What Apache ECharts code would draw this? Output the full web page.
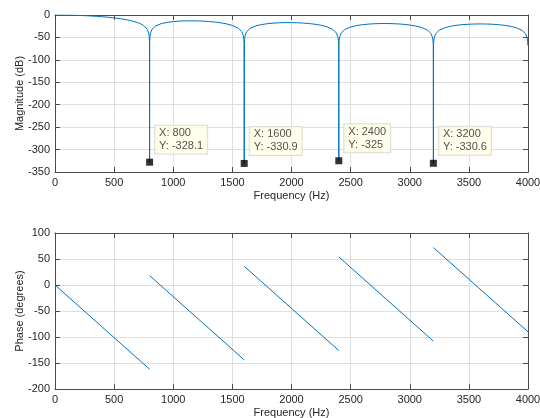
<!DOCTYPE html>
<html><head><meta charset="utf-8">
<script src="https://cdn.jsdelivr.net/npm/echarts@6/dist/echarts.min.js"></script>
<style>html,body{margin:0;padding:0;background:#fff}#c{width:540px;height:418px}</style>
</head><body><div id="c"></div>
<script>
// Magnitude response (Hz, dB)
const magFreq = [0,50,100,150,200,250,300,350,400,450,500,550,600,650,700,725,750,780,792,797,799,800,801,803,808,820,850,900,950,1000,1050,1100,1150,1200,1250,1300,1350,1400,1450,1500,1550,1580,1592,1597,1599,1600,1601,1603,1608,1620,1650,1700,1750,1800,1850,1900,1950,2000,2050,2100,2150,2200,2250,2300,2350,2380,2392,2397,2399,2400,2401,2403,2408,2420,2450,2500,2550,2600,2650,2700,2750,2800,2850,2900,2950,3000,3050,3100,3150,3180,3192,3197,3199,3200,3201,3203,3208,3220,3250,3300,3350,3400,3450,3500,3550,3600,3650,3700,3750,3800,3850,3900,3950,3980,3992,3997,3999];
const magDb = [0,-0.06,-0.22,-0.5,-0.9,-1.43,-2.09,-2.9,-3.89,-5.07,-6.49,-8.22,-10.37,-13.15,-17.02,-19.71,-23.45,-31.69,-39.77,-48.35,-57.91,-328.1,-57.93,-48.41,-39.94,-32.11,-24.5,-19.13,-16.34,-14.67,-13.66,-13.13,-12.97,-13.14,-13.64,-14.47,-15.68,-17.37,-19.74,-23.24,-29.34,-37.4,-45.41,-53.95,-63.5,-330.9,-63.51,-53.98,-45.49,-37.59,-29.81,-24.18,-21.15,-19.26,-18.05,-17.32,-16.98,-16.99,-17.32,-18.01,-19.07,-20.63,-22.87,-26.24,-32.23,-40.22,-48.2,-56.73,-66.27,-325,-66.28,-56.75,-48.25,-40.32,-32.48,-26.74,-23.61,-21.63,-20.32,-19.5,-19.08,-19.0,-19.25,-19.85,-20.84,-22.32,-24.49,-27.79,-33.7,-41.65,-49.61,-58.14,-67.68,-330.6,-67.68,-58.15,-49.64,-41.69,-33.81,-28.01,-24.82,-22.77,-21.4,-20.52,-20.03,-19.89,-20.09,-20.63,-21.56,-22.98,-25.09,-28.34,-34.19,-42.11,-50.06,-58.58,-68.12];
// Data tips
const tipFreq = [800, 1600, 2400, 3200];
const tipDb = [-328.1, -330.9, -325, -330.6];
// Phase: straight segments between the zeros
const phaseEdges = [0, 800, 1600, 2400, 3200, 4000];
const phaseStart = [0, 18, 36, 54, 72];
const phaseEnd = [-162, -144, -126, -108, -90];

const FONT = 'Liberation Sans, Arial, sans-serif';
const TXT = '#262626';
const AX = '#4a4a4a';
const GRIDC = '#dfdfdf';
const BLUE = '#0072BD';

function xAx(gridIndex, pos, showLabel, name) {
  return {
    type: 'value', gridIndex, position: pos, min: 0, max: 4000, interval: 500,
    name: name || '', nameLocation: 'middle', nameGap: 18, nameMoveOverlap: false,
    nameTextStyle: { fontFamily: FONT, fontSize: 11, color: TXT },
    axisLine: { show: true, onZero: false, lineStyle: { color: AX, width: 1 } },
    axisTick: { show: true, inside: true, length: 5, lineStyle: { color: AX } },
    axisLabel: { show: showLabel, fontFamily: FONT, fontSize: 11, color: TXT, margin: 5,
      formatter: v => String(v) },
    splitLine: { show: showLabel, lineStyle: { color: GRIDC, width: 1 } }
  };
}
function yAx(gridIndex, pos, min, max, showLabel, name) {
  return {
    type: 'value', gridIndex, position: pos, min, max, interval: 50,
    name: name || '', nameLocation: 'middle', nameGap: 30, nameRotate: 90, nameMoveOverlap: false,
    nameTextStyle: { fontFamily: FONT, fontSize: 11, color: TXT },
    axisLine: { show: true, onZero: false, lineStyle: { color: AX, width: 1 } },
    axisTick: { show: true, inside: true, length: 5, lineStyle: { color: AX } },
    axisLabel: { show: showLabel, fontFamily: FONT, fontSize: 11, color: TXT, margin: 5,
      formatter: v => String(v) },
    splitLine: { show: showLabel, lineStyle: { color: GRIDC, width: 1 } }
  };
}

const magData = magFreq.map((f, i) => [f, magDb[i]]);
const tipData = tipFreq.map((f, i) => [f, tipDb[i]]);

const series = [
  { type: 'line', xAxisIndex: 0, yAxisIndex: 0, data: magData, showSymbol: false,
    lineStyle: { color: BLUE, width: 1 }, silent: true, z: 3 },
  { type: 'scatter', xAxisIndex: 0, yAxisIndex: 0, data: tipData, symbol: 'rect', symbolSize: 7,
    itemStyle: { color: '#000' }, z: 5,
    label: { show: true, position: [9, -33], align: 'left', verticalAlign: 'top',
      formatter: p => 'X: ' + p.value[0] + '\nY: ' + p.value[1],
      fontFamily: FONT, fontSize: 11, lineHeight: 13, color: TXT,
      backgroundColor: '#ffffe6', borderColor: '#d6d6c8', borderWidth: 1, padding: [1, 4, 1, 4] } }
];
for (let k = 0; k < phaseStart.length; k++) {
  series.push({ type: 'line', xAxisIndex: 2, yAxisIndex: 2,
    data: [[phaseEdges[k], phaseStart[k]], [phaseEdges[k + 1], phaseEnd[k]]],
    showSymbol: false, lineStyle: { color: BLUE, width: 1 }, silent: true });
}

const chart = echarts.init(document.getElementById('c'), null, { renderer: 'canvas' });
chart.setOption({
  animation: false,
  backgroundColor: '#fff',
  grid: [
    { left: 55, right: 12, top: 15, height: 157, outerBoundsMode: 'none', containLabel: false },
    { left: 55, right: 12, top: 233, height: 156, outerBoundsMode: 'none', containLabel: false }
  ],
  xAxis: [
    xAx(0, 'bottom', true, 'Frequency (Hz)'),
    xAx(0, 'top', false),
    xAx(1, 'bottom', true, 'Frequency (Hz)'),
    xAx(1, 'top', false)
  ],
  yAxis: [
    yAx(0, 'left', -350, 0, true, 'Magnitude (dB)'),
    yAx(0, 'right', -350, 0, false),
    yAx(1, 'left', -200, 100, true, 'Phase (degrees)'),
    yAx(1, 'right', -200, 100, false)
  ],
  series
});
</script></body></html>
